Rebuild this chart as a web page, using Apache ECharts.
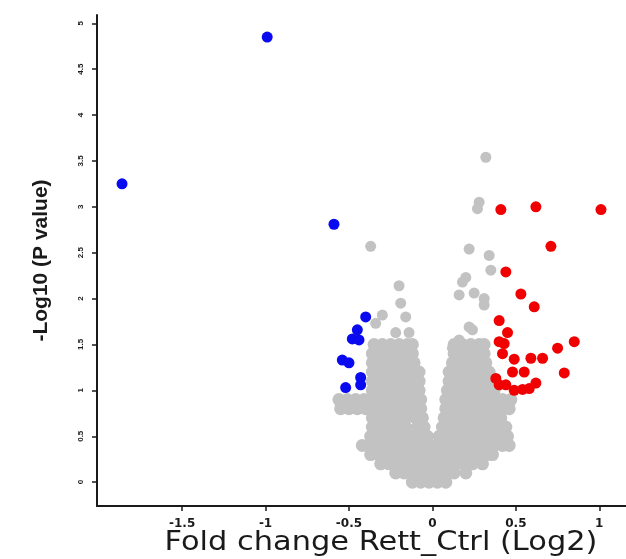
<!DOCTYPE html>
<html>
<head>
<meta charset="utf-8">
<script src="https://cdn.jsdelivr.net/npm/echarts@6/dist/echarts.min.js"></script>
<style>
  html, body { margin: 0; padding: 0; background: #fff; }
  #volcano { width: 626px; height: 559px; }
</style>
</head>
<body>
<div id="volcano"></div>
<script>
// tick labels
const xTicks = [-1.5, -1, -0.5, 0, 0.5, 1];
const yTicks = [0, 0.5, 1, 1.5, 2, 2.5, 3, 3.5, 4, 4.5, 5];

// significant down (blue)
const downPoints = [
  [-0.99, 4.85], [-1.86, 3.25], [-0.59, 2.81], [-0.40, 1.80], [-0.45, 1.66],
  [-0.48, 1.56], [-0.44, 1.55], [-0.54, 1.33], [-0.50, 1.30], [-0.43, 1.14],
  [-0.43, 1.06], [-0.52, 1.03]
];

// significant up (red)
const upPoints = [
  [0.41, 2.97], [0.62, 3.00], [1.01, 2.97], [0.71, 2.57], [0.44, 2.29],
  [0.53, 2.05], [0.61, 1.91], [0.40, 1.76], [0.45, 1.63], [0.40, 1.53],
  [0.43, 1.51], [0.42, 1.40], [0.49, 1.34], [0.59, 1.35], [0.66, 1.35],
  [0.75, 1.46], [0.85, 1.53], [0.48, 1.20], [0.55, 1.20], [0.79, 1.19],
  [0.38, 1.13], [0.40, 1.06], [0.44, 1.06], [0.49, 1.00], [0.54, 1.01],
  [0.58, 1.02], [0.62, 1.08]
];

// not significant, scattered ones above the cloud
const greyScatter = [
  [0.32, 3.54], [0.28, 3.05], [0.27, 2.98], [0.22, 2.54], [0.34, 2.47],
  [0.35, 2.31], [0.20, 2.23], [0.18, 2.18], [0.16, 2.04], [0.25, 2.06],
  [0.31, 2.00], [0.31, 1.93], [0.22, 1.69], [0.24, 1.66], [0.16, 1.55],
  [0.12, 1.46], [0.22, 1.47], [0.30, 1.46],
  [-0.37, 2.57], [-0.20, 2.14], [-0.19, 1.95], [-0.16, 1.80], [-0.30, 1.82],
  [-0.34, 1.73], [-0.22, 1.63], [-0.14, 1.63]
];

// not significant, dense cloud read row by row: [y, x values]
const greyRows = [
  [1.5, [-0.35, -0.30, -0.25, -0.20, -0.15, -0.12, 0.13, 0.18, 0.23, 0.28, 0.31]],
  [1.4, [-0.36, -0.31, -0.26, -0.21, -0.16, -0.12, 0.13, 0.18, 0.23, 0.28, 0.31]],
  [1.3, [-0.36, -0.31, -0.26, -0.21, -0.16, -0.11, 0.12, 0.17, 0.22, 0.27, 0.32]],
  [1.2, [-0.36, -0.31, -0.26, -0.21, -0.16, -0.11, -0.08, 0.10, 0.15, 0.20, 0.25, 0.30, 0.34]],
  [1.1, [-0.36, -0.31, -0.26, -0.21, -0.16, -0.11, -0.08, 0.10, 0.15, 0.20, 0.25, 0.30, 0.35]],
  [1.0, [-0.36, -0.31, -0.26, -0.21, -0.16, -0.11, -0.08, 0.09, 0.14, 0.19, 0.24, 0.29, 0.34, 0.37]],
  [0.9, [-0.56, -0.51, -0.46, -0.41, -0.36, -0.31, -0.26, -0.21, -0.16, -0.11, -0.07,
         0.08, 0.13, 0.18, 0.23, 0.28, 0.33, 0.38, 0.42, 0.47]],
  [0.8, [-0.55, -0.50, -0.45, -0.40, -0.36, -0.31, -0.26, -0.21, -0.16, -0.11, -0.07,
         0.08, 0.13, 0.18, 0.23, 0.28, 0.33, 0.38, 0.42, 0.46]],
  [0.7, [-0.36, -0.31, -0.26, -0.21, -0.16, -0.10, -0.06, 0.07, 0.12, 0.17, 0.22, 0.27, 0.32, 0.37, 0.41]],
  [0.6, [-0.36, -0.31, -0.26, -0.21, -0.16, -0.09, -0.05, 0.06, 0.11, 0.16, 0.21, 0.26, 0.31, 0.36, 0.40, 0.44]],
  [0.5, [-0.37, -0.32, -0.27, -0.22, -0.17, -0.12, -0.07, -0.03, 0.04, 0.09, 0.14, 0.19, 0.24, 0.29, 0.34, 0.39, 0.45]],
  [0.4, [-0.42, -0.37, -0.32, -0.27, -0.22, -0.17, -0.12, -0.07, -0.02, 0.02, 0.07, 0.12,
         0.17, 0.22, 0.27, 0.32, 0.37, 0.42, 0.46]],
  [0.3, [-0.37, -0.32, -0.27, -0.22, -0.17, -0.12, -0.07, -0.02, 0.03, 0.08, 0.13, 0.18, 0.23, 0.28, 0.33, 0.36]],
  [0.2, [-0.31, -0.26, -0.21, -0.16, -0.11, -0.06, -0.01, 0.04, 0.09, 0.14, 0.19, 0.24, 0.30]],
  [0.1, [-0.22, -0.17, -0.12, -0.07, -0.02, 0.03, 0.08, 0.13, 0.20]],
  [0.0, [-0.12, -0.07, -0.02, 0.03, 0.08]]
];

const greyCloud = greyRows.flatMap(([y, xs]) => xs.map(x => [x, y]));

const xTitle = 'Fold change Rett_Ctrl (Log2)';
const yTitle = '-Log10 (P value)';

const axisColor = '#1a1a1a';
const grey = '#c2c2c2';

const chart = echarts.init(document.getElementById('volcano'));
chart.setOption({
  animation: false,
  backgroundColor: '#fff',
  grid: { left: 97, right: 0, top: 15, bottom: 53 },
  // x title is a little stretched in the original, draw it as graphic text
  graphic: [
    {
      type: 'text',
      x: 381,
      y: 543,
      scaleX: 1.17,
      style: {
        text: xTitle,
        fontFamily: 'DejaVu Sans',
        fontSize: 26,
        fill: axisColor,
        align: 'center',
        verticalAlign: 'middle',
      },
    },
  ],
  xAxis: {
    type: 'value',
    min: -2.01,
    max: 1.16,
    axisLine: { onZero: false, lineStyle: { color: axisColor, width: 2 } },
    axisTick: {
      customValues: xTicks,
      length: 5,
      lineStyle: { color: axisColor, width: 1.5 },
    },
    axisLabel: {
      customValues: xTicks,
      margin: 12,
      fontFamily: 'DejaVu Sans',
      fontSize: 12,
      fontWeight: 'bold',
      color: axisColor,
    },
    splitLine: { show: false },
  },
  yAxis: {
    type: 'value',
    min: -0.26,
    max: 5.09,
    name: yTitle,
    nameLocation: 'middle',
    nameGap: 45,
    nameTextStyle: {
      fontFamily: 'Liberation Sans',
      fontSize: 21,
      fontWeight: 'bold',
      color: axisColor,
    },
    axisLine: { onZero: false, lineStyle: { color: axisColor, width: 2 } },
    axisTick: {
      customValues: yTicks,
      length: 5,
      lineStyle: { color: axisColor, width: 1.5 },
    },
    axisLabel: {
      customValues: yTicks,
      rotate: 90,
      margin: 12,
      fontFamily: 'Liberation Sans',
      fontSize: 8,
      fontWeight: 'bold',
      color: axisColor,
    },
    splitLine: { show: false },
  },
  series: [
    {
      name: 'ns cloud',
      type: 'scatter',
      data: greyCloud,
      symbolSize: 13,
      itemStyle: { color: grey, opacity: 1 },
    },
    {
      name: 'ns',
      type: 'scatter',
      data: greyScatter,
      symbolSize: 11,
      itemStyle: { color: grey, opacity: 1 },
    },
    {
      name: 'down',
      type: 'scatter',
      data: downPoints,
      symbolSize: 11,
      itemStyle: { color: '#0a0af0', opacity: 1 },
    },
    {
      name: 'up',
      type: 'scatter',
      data: upPoints,
      symbolSize: 11,
      itemStyle: { color: '#f00000', opacity: 1 },
    },
  ],
});
</script>
</body>
</html>
